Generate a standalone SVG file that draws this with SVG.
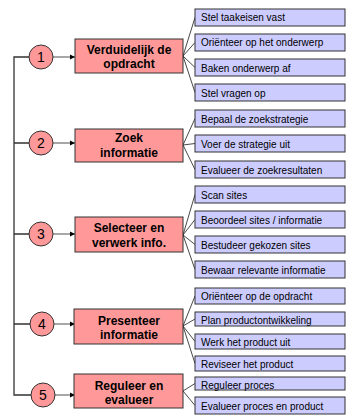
<svg xmlns="http://www.w3.org/2000/svg" width="347" height="418" viewBox="0 0 347 418">
<defs>
<style>
.main{fill:#ff9999;stroke:#333;stroke-width:1}
.sub{fill:#ccccff;stroke:#333;stroke-width:1}
.circ{fill:#ff9999;stroke:#333;stroke-width:1}
.mt{font-family:"Liberation Sans",Arial,sans-serif;font-size:12px;font-weight:bold;fill:#000;text-anchor:middle}
.st{font-family:"Liberation Sans",Arial,sans-serif;font-size:10px;fill:#000}
.nt{font-family:"Liberation Sans",Arial,sans-serif;font-size:14px;fill:#000;text-anchor:middle}
.trunk{stroke:#333;stroke-width:1.3;fill:none}
.arr{stroke:#777;stroke-width:1.3;fill:none;marker-end:url(#ah)}
.fan{stroke:#333;stroke-width:0.9;fill:none}
</style>
<marker id="ah" markerWidth="6" markerHeight="6" refX="5" refY="3" orient="auto" markerUnits="userSpaceOnUse">
<path d="M0,0.5 L5,3 L0,5.5 z" fill="#000"/>
</marker>
</defs>
<g id="connectors">
<path class="trunk" d="M29,57 H14 V395 H31"/>
<path class="trunk" d="M14,143 H29 M14,234 H29 M14,324 H30"/>
<path class="arr" d="M53,57 H75"/>
<path class="arr" d="M53,143 H75"/>
<path class="arr" d="M53,234 H75"/>
<path class="arr" d="M54,324 H75"/>
<path class="arr" d="M55,395 H75"/>
<path class="fan" d="M183,56 L195,17.5 M183,56 L195,42.5 M183,56 L195,67.5 M183,56 L195,92.5"/>
<path class="fan" d="M183,145 L195,118.5 M183,145 L195,143.5 M183,145 L195,169.5"/>
<path class="fan" d="M183,235 L195,194.5 M183,235 L195,219.5 M183,235 L195,244.5 M183,235 L195,269.5"/>
<path class="fan" d="M183,326 L195,296 M183,326 L195,319 M183,326 L195,341.5 M183,326 L195,363.5"/>
<path class="fan" d="M183,391 L195,383.5 M183,391 L195,405.5"/>
</g>
<g id="step1">
<circle class="circ" cx="41" cy="57" r="12"/><text class="nt" x="41" y="62">1</text>
<rect class="main" x="75" y="39" width="108" height="34"/>
<text class="mt" x="129" y="54">Verduidelijk de</text><text class="mt" x="129" y="68">opdracht</text>
</g>
<g id="step2">
<circle class="circ" cx="41" cy="143" r="12"/><text class="nt" x="41" y="148">2</text>
<rect class="main" x="75" y="129" width="108" height="33"/>
<text class="mt" x="129" y="142">Zoek</text><text class="mt" x="129" y="157">informatie</text>
</g>
<g id="step3">
<circle class="circ" cx="41" cy="234" r="12"/><text class="nt" x="41" y="239">3</text>
<rect class="main" x="75" y="217" width="108" height="35"/>
<text class="mt" x="129" y="232">Selecteer en</text><text class="mt" x="129" y="247">verwerk info.</text>
</g>
<g id="step4">
<circle class="circ" cx="42" cy="324" r="12"/><text class="nt" x="42" y="329">4</text>
<rect class="main" x="74" y="309" width="109" height="35"/>
<text class="mt" x="129" y="325">Presenteer</text><text class="mt" x="129" y="339">informatie</text>
</g>
<g id="step5">
<circle class="circ" cx="43" cy="395" r="12"/><text class="nt" x="43" y="400">5</text>
<rect class="main" x="74" y="374" width="109" height="34"/>
<text class="mt" x="129" y="390">Reguleer en</text><text class="mt" x="129" y="404">evalueer</text>
</g>
<g id="sub1a"><rect class="sub" x="195" y="9" width="150" height="17"/><text class="st" x="201" y="21">Stel taakeisen vast</text></g>
<g id="sub1b"><rect class="sub" x="195" y="34" width="150" height="17"/><text class="st" x="201" y="46">Oriënteer op het onderwerp</text></g>
<g id="sub1c"><rect class="sub" x="195" y="59" width="150" height="17"/><text class="st" x="201" y="72">Baken onderwerp af</text></g>
<g id="sub1d"><rect class="sub" x="195" y="84" width="150" height="17"/><text class="st" x="201" y="97">Stel vragen op</text></g>
<g id="sub2a"><rect class="sub" x="195" y="110" width="150" height="17"/><text class="st" x="201" y="123">Bepaal de zoekstrategie</text></g>
<g id="sub2b"><rect class="sub" x="195" y="135" width="150" height="17"/><text class="st" x="201" y="148">Voer de strategie uit</text></g>
<g id="sub2c"><rect class="sub" x="195" y="161" width="150" height="17"/><text class="st" x="201" y="174">Evalueer de zoekresultaten</text></g>
<g id="sub3a"><rect class="sub" x="195" y="186" width="150" height="17"/><text class="st" x="201" y="199">Scan sites</text></g>
<g id="sub3b"><rect class="sub" x="195" y="211" width="150" height="17"/><text class="st" x="201" y="224">Beoordeel sites / informatie</text></g>
<g id="sub3c"><rect class="sub" x="195" y="236" width="150" height="17"/><text class="st" x="201" y="249">Bestudeer gekozen sites</text></g>
<g id="sub3d"><rect class="sub" x="195" y="261" width="150" height="17"/><text class="st" x="201" y="274">Bewaar relevante informatie</text></g>
<g id="sub4a"><rect class="sub" x="195" y="288" width="150" height="16"/><text class="st" x="201" y="300">Oriënteer op de opdracht</text></g>
<g id="sub4b"><rect class="sub" x="195" y="312" width="150" height="14"/><text class="st" x="201" y="324">Plan productontwikkeling</text></g>
<g id="sub4c"><rect class="sub" x="195" y="334" width="150" height="15"/><text class="st" x="201" y="346">Werk het product uit</text></g>
<g id="sub4d"><rect class="sub" x="195" y="356" width="150" height="15"/><text class="st" x="201" y="368">Reviseer het product</text></g>
<g id="sub5a"><rect class="sub" x="195" y="377" width="150" height="13"/><text class="st" x="201" y="389">Reguleer proces</text></g>
<g id="sub5b"><rect class="sub" x="195" y="397" width="150" height="17"/><text class="st" x="201" y="410">Evalueer proces en product</text></g>
</svg>
